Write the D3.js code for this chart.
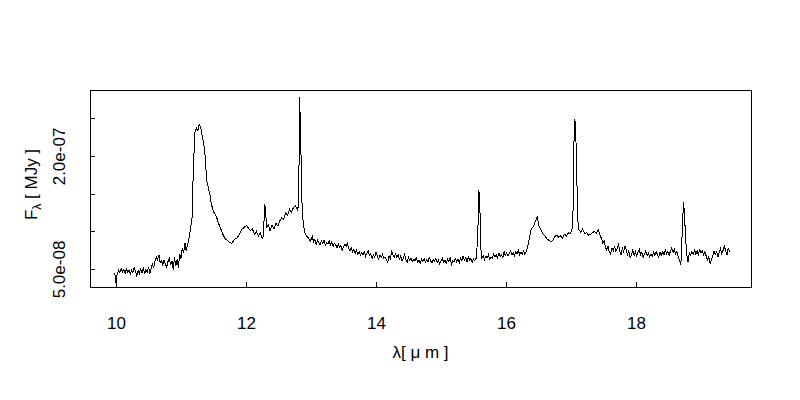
<!DOCTYPE html>
<html>
<head>
<meta charset="utf-8">
<script src="https://cdn.jsdelivr.net/npm/d3@7"></script>
<style>
  body { margin: 0; background: #fff; }
  text { font-family: "Liberation Sans", Arial, sans-serif; fill: #000; }
</style>
</head>
<body>
<svg id="chart" width="800" height="400"></svg>
<script>
// wavelength in micron, flux in units of 1e-8 MJy
const wavelength = [
  // 10 - 11.1 micron
  9.98, 10.00, 10.02, 10.04, 10.06, 10.08, 10.10, 10.12, 10.14, 10.16,
  10.18, 10.20, 10.22, 10.24, 10.26, 10.28, 10.30, 10.32, 10.34, 10.36,
  10.38, 10.40, 10.42, 10.44, 10.46, 10.48, 10.50, 10.52, 10.54, 10.56,
  10.58, 10.60, 10.62, 10.64, 10.66, 10.68, 10.70, 10.72, 10.74, 10.76,
  10.78, 10.80, 10.82, 10.84, 10.86, 10.88, 10.90, 10.92, 10.94, 10.96,
  10.98, 11.00, 11.02, 11.04, 11.06, 11.08, 11.10, 11.12,
  // 11.3 band, 12.3 and 12.8 lines
  11.15, 11.17, 11.19, 11.215, 11.24, 11.26, 11.28, 11.30, 11.32, 11.35,
  11.37, 11.395, 11.42, 11.446, 11.47, 11.50, 11.53, 11.55, 11.58, 11.60,
  11.63, 11.65, 11.68, 11.70, 11.74, 11.78, 11.82, 11.86, 11.90, 11.94,
  11.97, 12.01, 12.04, 12.07, 12.10, 12.13, 12.16, 12.19, 12.22, 12.25,
  12.27, 12.285, 12.30, 12.315, 12.34, 12.37, 12.40, 12.43, 12.46, 12.49,
  12.52, 12.55, 12.58, 12.61, 12.64, 12.67, 12.70, 12.73, 12.76, 12.79,
  12.81, 12.825, 12.84, 12.86, 12.875, 12.90, 12.93, 12.96, 12.99,
  // 13 - 16.3 micron, 15.6 line
  13.00, 13.02, 13.04, 13.06, 13.08, 13.10, 13.12, 13.14, 13.16, 13.18,
  13.20, 13.22, 13.24, 13.26, 13.28, 13.30, 13.32, 13.34, 13.36, 13.38,
  13.40, 13.42, 13.44, 13.46, 13.48, 13.50, 13.52, 13.54, 13.56, 13.58,
  13.60, 13.62, 13.64, 13.66, 13.68, 13.70, 13.72, 13.74, 13.76, 13.78,
  13.80, 13.82, 13.84, 13.86, 13.88, 13.90, 13.92, 13.94, 13.96, 13.98,
  14.00, 14.02, 14.04, 14.06, 14.08, 14.10, 14.12, 14.14, 14.16, 14.18,
  14.20, 14.22, 14.24, 14.26, 14.28, 14.30, 14.32, 14.34, 14.36, 14.38,
  14.40, 14.42, 14.44, 14.46, 14.48, 14.50, 14.52, 14.54, 14.56, 14.58,
  14.60, 14.62, 14.64, 14.66, 14.68, 14.70, 14.72, 14.74, 14.76, 14.78,
  14.80, 14.82, 14.84, 14.86, 14.88, 14.90, 14.92, 14.94, 14.96, 14.98,
  15.00, 15.02, 15.04, 15.06, 15.08, 15.10, 15.12, 15.14, 15.16, 15.18,
  15.20, 15.22, 15.24, 15.26, 15.28, 15.30, 15.32, 15.34, 15.36, 15.38,
  15.40, 15.42, 15.44, 15.46, 15.48, 15.50, 15.52, 15.54, 15.565, 15.58,
  15.595, 15.61, 15.63, 15.65, 15.67, 15.69, 15.71, 15.73, 15.75, 15.77,
  15.79, 15.81, 15.83, 15.85, 15.87, 15.89, 15.91, 15.93, 15.95, 15.97,
  15.99, 16.01, 16.03, 16.05, 16.07, 16.09, 16.11, 16.13, 16.15, 16.17,
  16.19, 16.21, 16.23, 16.25, 16.27, 16.29, 16.31, 16.33,
  // 16.4 band, 17.0 line
  16.36, 16.39, 16.42, 16.45, 16.48, 16.51, 16.54, 16.57, 16.60, 16.63,
  16.66, 16.69, 16.72, 16.75, 16.78, 16.81, 16.84, 16.87, 16.90, 16.93,
  16.96, 16.99, 17.02, 17.035, 17.05, 17.065, 17.085, 17.10, 17.12, 17.15,
  17.18, 17.21, 17.24, 17.27, 17.30, 17.33, 17.36, 17.39, 17.42,
  // 17.45 - 19.45 micron, 18.7 line
  17.45, 17.47, 17.49, 17.51, 17.53, 17.55, 17.57, 17.59, 17.61, 17.63,
  17.65, 17.67, 17.69, 17.71, 17.73, 17.75, 17.77, 17.79, 17.81, 17.83,
  17.85, 17.87, 17.89, 17.91, 17.93, 17.95, 17.97, 17.99, 18.01, 18.03,
  18.05, 18.07, 18.09, 18.11, 18.13, 18.15, 18.17, 18.19, 18.21, 18.23,
  18.25, 18.27, 18.29, 18.31, 18.33, 18.35, 18.37, 18.39, 18.41, 18.43,
  18.45, 18.47, 18.49, 18.51, 18.53, 18.55, 18.57, 18.59, 18.61, 18.63,
  18.65, 18.67, 18.69, 18.71, 18.73, 18.745, 18.76, 18.78, 18.80, 18.82,
  18.84, 18.86, 18.88, 18.90, 18.92, 18.94, 18.96, 18.98, 19.00, 19.02,
  19.04, 19.06, 19.08, 19.10, 19.12, 19.14, 19.16, 19.18, 19.20, 19.22,
  19.24, 19.26, 19.28, 19.30, 19.32, 19.34, 19.36, 19.38, 19.40, 19.42,
  19.44
];
const flux = [
  // 10 - 11.1 micron
  4.5, 3.2, 4.4, 4.8, 4.5, 5.1, 4.6, 4.9, 4.4, 5.0,
  4.6, 4.9, 4.3, 4.8, 4.5, 5.2, 4.7, 4.1, 4.8, 4.4,
  5.0, 4.5, 5.2, 4.3, 4.9, 4.6, 5.3, 4.4, 5.1, 5.6,
  5.2, 6.0, 6.6, 6.2, 6.9, 5.8, 6.1, 5.5, 6.2, 5.7,
  5.2, 6.0, 6.4, 5.5, 6.1, 4.9, 6.6, 5.4, 6.3, 5.2,
  7.0, 6.4, 7.8, 7.1, 8.5, 7.4, 8.2, 8.9,
  // 11.3 band, 12.3 and 12.8 lines
  10.6, 11.8, 18.4, 23.2, 23.7, 23.4, 24.2, 23.9, 23.0, 21.6,
  20.1, 16.8, 15.8, 14.8, 13.5, 12.6, 12.2, 11.8, 11.0, 10.6,
  9.9, 9.5, 9.0, 8.9, 8.6, 8.4, 8.9, 9.1, 9.6, 10.3,
  10.5, 10.8, 10.4, 10.1, 10.3, 9.6, 10.0, 9.4, 9.8, 9.1,
  9.4, 13.5, 13.3, 10.4, 10.9, 10.1, 10.8, 10.3, 11.1, 10.7,
  11.4, 11.8, 11.6, 12.4, 12.1, 12.9, 12.5, 13.2, 13.4, 12.9,
  13.4, 27.8, 23.0, 14.0, 11.6, 9.9, 9.4, 9.1, 8.7,
  // 13 - 16.3 micron, 15.6 line
  8.9, 9.3, 8.6, 8.9, 8.3, 8.8, 8.5, 8.2, 8.7, 8.4,
  8.8, 8.1, 8.5, 8.3, 8.7, 8.2, 8.6, 8.0, 8.4, 8.2,
  7.8, 8.3, 7.9, 8.1, 7.5, 7.9, 8.3, 8.0, 8.4, 7.7,
  7.4, 7.8, 7.3, 7.6, 7.1, 7.5, 7.0, 7.3, 6.8, 7.2,
  6.9, 7.3, 6.7, 7.1, 7.4, 6.8, 7.0, 6.4, 6.9, 6.6,
  7.2, 6.7, 6.3, 6.8, 6.5, 6.9, 6.4, 6.6, 6.2, 5.9,
  6.7, 6.4, 7.3, 6.9, 6.5, 7.0, 6.6, 6.9, 6.3, 6.7,
  6.1, 6.4, 6.9, 6.2, 5.9, 6.5, 6.1, 6.4, 6.0, 6.3,
  6.1, 6.5, 5.9, 6.2, 5.8, 6.3, 6.0, 6.4, 5.9, 6.2,
  6.0, 6.5, 6.1, 5.8, 6.3, 6.0, 6.4, 5.9, 6.2, 5.7,
  6.1, 6.4, 5.9, 6.2, 5.8, 6.3, 6.0, 6.5, 5.6, 6.1,
  5.9, 6.4, 6.0, 6.3, 5.8, 6.4, 6.1, 6.7, 6.2, 6.5,
  6.0, 6.6, 6.2, 6.4, 5.9, 6.3, 6.1, 6.4, 9.0, 15.5,
  14.8, 8.0, 6.4, 6.8, 6.3, 6.7, 6.5, 6.9, 6.3, 6.6,
  6.4, 7.0, 6.6, 6.9, 6.5, 7.1, 6.7, 6.9, 6.5, 7.3,
  6.8, 7.1, 6.7, 7.0, 7.4, 6.9, 7.2, 6.8, 7.3, 7.0,
  7.5, 6.9, 7.2, 7.0, 7.4, 6.9, 7.3, 7.8,
  // 16.4 band, 17.0 line
  9.1, 10.4, 10.6, 11.3, 11.9, 10.6, 10.2, 9.6, 9.4, 9.0,
  8.8, 8.6, 8.8, 9.3, 9.5, 9.2, 9.4, 9.1, 9.6, 9.4,
  9.8, 9.7, 10.4, 13.5, 24.8, 24.6, 19.9, 12.0, 10.2, 9.9,
  10.3, 9.7, 9.8, 9.5, 9.6, 9.8, 10.0, 9.8, 10.2,
  // 17.45 - 19.45 micron, 18.7 line
  9.4, 9.0, 8.4, 8.7, 7.9, 7.5, 8.0, 7.2, 7.0, 7.8,
  7.4, 8.1, 7.3, 7.7, 8.2, 7.4, 6.9, 7.8, 7.3, 8.0,
  7.5, 6.9, 7.4, 6.5, 6.9, 7.5, 6.8, 7.3, 6.7, 7.2,
  7.6, 6.9, 7.2, 6.5, 7.0, 7.4, 6.8, 7.1, 6.6, 7.0,
  6.7, 7.2, 6.8, 7.3, 6.9, 6.6, 7.2, 6.8, 7.3, 6.9,
  7.5, 7.0, 7.3, 6.8, 7.4, 7.8, 7.2, 7.6, 7.0, 7.3,
  6.6, 6.1, 5.6, 9.8, 13.9, 12.6, 9.5, 7.0, 5.9, 7.2,
  6.8, 7.3, 6.9, 7.5, 7.0, 7.4, 6.8, 7.7, 7.1, 7.4,
  6.9, 7.3, 6.7, 6.2, 6.6, 5.7, 6.3, 6.7, 7.4, 6.9,
  7.3, 6.6, 7.2, 7.7, 7.0, 7.5, 8.0, 7.4, 6.9, 7.8,
  7.2
];
const xTicks = [10, 12, 14, 16, 18];
const yTicks = [5e-8, 1e-7, 1.5e-7, 2e-7, 2.5e-7];
const yLabelled = [5e-8, 2e-7];

if (wavelength.length !== flux.length) console.error('length mismatch', wavelength.length, flux.length);

const svg = d3.select('#chart');
const plot = {left: 90, right: 751, top: 90, bottom: 287};

const x = d3.scaleLinear().domain([9.6, 19.769]).range([plot.left, plot.right]);
const y = d3.scaleLinear().domain([2.61e-8, 2.876e-7]).range([plot.bottom, plot.top]);

// R style exponent, e.g. 5.0e-08
const fmt = (v) => {
    let [m, e] = d3.format('.1e')(v).split('e');
    let sign = e[0] === '-' ? '-' : '+';
    let digits = e.replace(/[-+]/, '').padStart(2, '0');
    return m + 'e' + sign + digits;
};

const data = wavelength.map((w, i) => ({w: w, f: flux[i] * 1e-8}));

const line = d3.line()
    .x(d => x(d.w))
    .y(d => y(d.f));

svg.append('path')
    .datum(data)
    .attr('d', line)
    .attr('fill', 'none')
    .attr('stroke', '#000')
    .attr('stroke-width', 1)
    .attr('shape-rendering', 'crispEdges');

// x axis, ticks pointing into the box
const xAxis = svg.append('g')
    .attr('transform', `translate(0,${plot.bottom})`)
    .call(d3.axisBottom(x).tickValues(xTicks).tickSize(-5).tickPadding(30).tickFormat(d3.format('d')));
xAxis.select('.domain').remove();
xAxis.selectAll('text').style('font-size', '17px').style('font-family', '"Liberation Sans", Arial, sans-serif');

// y axis, labels rotated like R's las=0
const yAxis = svg.append('g')
    .attr('transform', `translate(${plot.left},0)`)
    .call(d3.axisLeft(y).tickValues(yTicks).tickSize(-5)
        .tickFormat(d => yLabelled.includes(d) ? fmt(d) : ''));
yAxis.select('.domain').remove();
yAxis.selectAll('text')
    .attr('x', null).attr('dy', null)
    .attr('transform', 'translate(-25,0) rotate(-90)')
    .attr('text-anchor', 'middle')
    .style('font-size', '17px')
    .style('font-family', '"Liberation Sans", Arial, sans-serif');

svg.selectAll('.tick line').attr('shape-rendering', 'crispEdges');

// box
svg.append('rect')
    .attr('x', plot.left + 0.5).attr('y', plot.top + 0.5)
    .attr('width', plot.right - plot.left).attr('height', plot.bottom - plot.top)
    .attr('fill', 'none').attr('stroke', '#000').attr('shape-rendering', 'crispEdges');

// axis titles
svg.append('text')
    .attr('x', (plot.left + plot.right) / 2).attr('y', 358)
    .attr('text-anchor', 'middle')
    .style('font-size', '17px')
    .text('λ[ μ m ]');

const yTitle = svg.append('text')
    .attr('transform', `translate(37,${(plot.top + plot.bottom) / 2 - 4}) rotate(-90)`)
    .attr('text-anchor', 'middle')
    .style('font-size', '17px');
yTitle.append('tspan').text('F');
yTitle.append('tspan').attr('dy', 4).style('font-size', '12px').text('λ');
yTitle.append('tspan').attr('dy', -4).text(' [ MJy ]');
</script>
</body>
</html>
